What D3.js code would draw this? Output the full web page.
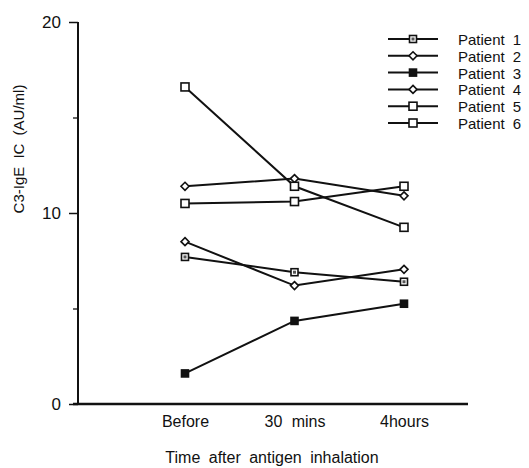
<!DOCTYPE html>
<html><head><meta charset="utf-8">
<script src="https://cdn.jsdelivr.net/npm/d3@7"></script>
<style>body{margin:0;background:#fff}svg{display:block}text{font-family:"Liberation Sans",Arial,sans-serif;fill:#111}</style>
</head><body><svg id="c" width="529" height="468"></svg>
<script>
const categories = ["Before", "30 mins", "4hours"];
const patients = ["Patient 1", "Patient 2", "Patient 3", "Patient 4", "Patient 5", "Patient 6"];
const markers = ["dotSquare", "diamond", "filledSquare", "diamond", "openSquare", "openSquare"];
const patient1 = [7.7, 6.9, 6.4];
const patient2 = [11.4, 11.8, 10.9];
const patient3 = [1.6, 4.35, 5.25];
const patient4 = [8.5, 6.2, 7.05];
const patient5 = [10.5, 10.6, 11.4];
const patient6 = [16.6, 11.4, 9.25];
const series = [patient1, patient2, patient3, patient4, patient5, patient6];
const yMajor = [0, 10, 20];
const yMinor = [5, 15];

const svg = d3.select("#c");
const x = d3.scalePoint().domain(categories).range([185, 404]);
const y = d3.scaleLinear().domain([0, 20]).range([404, 22]);

// y axis
const gy = svg.append("g").attr("transform", "translate(78,0)");
gy.call(d3.axisLeft(y).tickValues(yMajor).tickSize(9).tickPadding(8).tickFormat(d3.format("d")));
gy.select(".domain").remove();
gy.selectAll(".tick line").attr("stroke", "#111").attr("stroke-width", 1.5);
gy.selectAll(".tick text").attr("font-size", 17).style("font-family", "Liberation Sans, Arial, sans-serif");
const gy2 = svg.append("g").attr("transform", "translate(78,0)");
gy2.call(d3.axisLeft(y).tickValues(yMinor).tickSize(5).tickFormat(""));
gy2.select(".domain").remove();
gy2.selectAll(".tick line").attr("stroke", "#111").attr("stroke-width", 1.3);
svg.append("line").attr("x1", 78).attr("x2", 78).attr("y1", y(20)).attr("y2", y(0) + 1)
  .attr("stroke", "#111").attr("stroke-width", 2);

// x axis
svg.append("line").attr("x1", 73).attr("x2", 468).attr("y1", y(0)).attr("y2", y(0))
  .attr("stroke", "#111").attr("stroke-width", 2.4);
const gx = svg.append("g").attr("transform", `translate(0,${y(0)})`);
gx.call(d3.axisBottom(x).tickSize(0).tickPadding(12));
gx.select(".domain").remove();
gx.selectAll(".tick text").attr("font-size", 16).style("word-spacing", "5px")
  .style("font-family", "Liberation Sans, Arial, sans-serif");

// titles
svg.append("text").attr("x", 272).attr("y", 463).attr("text-anchor", "middle")
  .attr("font-size", 16).style("word-spacing", "4px").text("Time after antigen inhalation");
svg.append("text").attr("transform", "translate(24,149) rotate(-90)").attr("text-anchor", "middle")
  .attr("font-size", 15).style("word-spacing", "4px").text("C3-IgE IC (AU/ml)");

function drawMarker(g, type, cx, cy) {
  if (type === "diamond") {
    const s = 4;
    g.append("path").attr("d", `M${cx},${cy - s}L${cx + s},${cy}L${cx},${cy + s}L${cx - s},${cy}Z`)
      .attr("fill", "#fff").attr("stroke", "#111").attr("stroke-width", 1.6);
  } else {
    const s = type === "openSquare" ? 8 : 7;
    g.append("rect").attr("x", cx - s / 2).attr("y", cy - s / 2).attr("width", s).attr("height", s)
      .attr("fill", type === "filledSquare" ? "#111" : "#fff").attr("stroke", "#111").attr("stroke-width", 1.6);
    if (type === "dotSquare") {
      g.append("rect").attr("x", cx - 1.5).attr("y", cy - 1.5).attr("width", 3).attr("height", 3).attr("fill", "#555");
    }
  }
}

const line = d3.line().x((d, i) => x(categories[i])).y(d => y(d));
series.forEach((vals, k) => {
  const g = svg.append("g");
  g.append("path").attr("d", line(vals)).attr("fill", "none").attr("stroke", "#111").attr("stroke-width", 2);
  vals.forEach((v, i) => drawMarker(g, markers[k], x(categories[i]), y(v)));
});

// legend
patients.forEach((p, k) => {
  const ly = 39 + k * 16.8;
  const g = svg.append("g");
  g.append("line").attr("x1", 388).attr("x2", 438).attr("y1", ly).attr("y2", ly).attr("stroke", "#111").attr("stroke-width", 2);
  drawMarker(g, markers[k], 413, ly);
  g.append("text").attr("x", 458).attr("y", ly + 6).attr("font-size", 15).style("word-spacing", "4px").text(p);
});
</script></body></html>
